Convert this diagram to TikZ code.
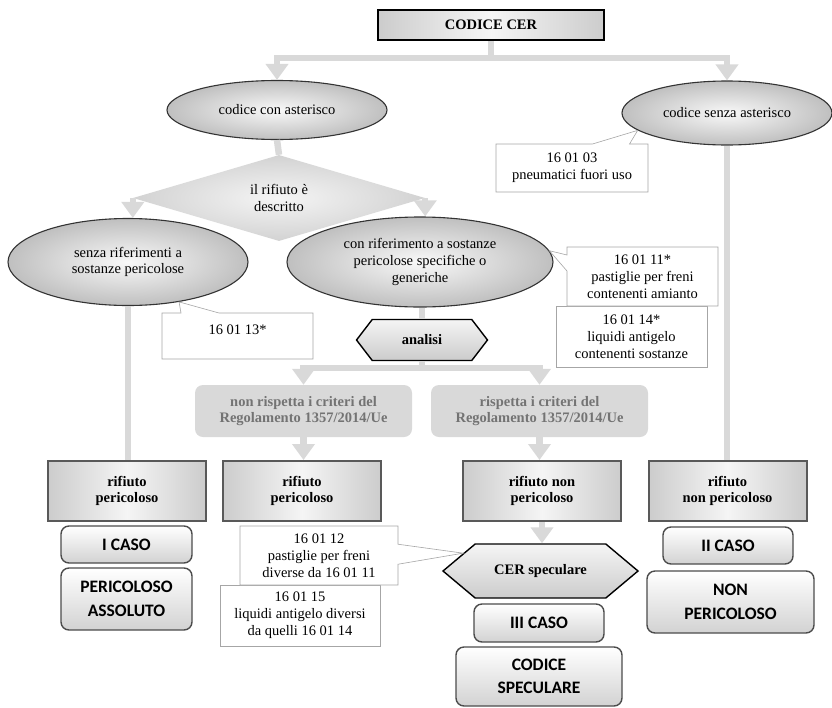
\documentclass[tikz,border=0pt]{standalone}
\usepackage{fontspec}
\setmainfont{Liberation Serif}
\newfontfamily\casefont{Carlito}
\usepackage{xcolor}
\usepackage{tikz}
\usetikzlibrary{arrows.meta, shapes.geometric, shapes.symbols, shapes.callouts}
\tikzset{every node/.append style={font=\fontsize{14.5}{16.8}\selectfont, align=center, inner sep=0pt}}
\tikzset{
    flow/.style={line width=6.5pt, draw=gray!30},
    oval/.style={ellipse, draw=black!80, line width=1.1pt, shading=radial, inner color=gray!5, outer color=gray!50},
    waste/.style={rectangle, draw=black!65, line width=2pt, left color=gray!40, right color=gray!40, middle color=gray!8,
        font=\fontsize{14.5}{16.8}\selectfont\bfseries, minimum width=158pt, minimum height=60pt},
    crit/.style={rectangle, rounded corners=8pt, fill=gray!30, text=black!55, font=\fontsize{14.5}{16.8}\selectfont\bfseries,
        minimum width=217pt, minimum height=52pt},
    casebox/.style={rectangle, rounded corners=8pt, draw=black!70, line width=1.4pt, top color=white, bottom color=gray!35,
        font=\casefont\fontsize{17.5}{23.5}\selectfont\bfseries},
    hexa/.style={signal, signal to=west and east, draw=black, line width=1.4pt, top color=gray!8, bottom color=gray!40,
        font=\fontsize{14.5}{16.8}\selectfont\bfseries},
    notebox/.style={rectangle, draw=gray!70, line width=0.6pt, fill=white},
    note/.style={notebox, rectangle callout}
}

\begin{document}
\begin{tikzpicture}[x=1pt, y=-1pt, >={Triangle[width=22pt,length=16pt]}]
    \useasboundingbox (0,0) rectangle (832,707);
    \node[waste, draw=black, minimum width=226pt, minimum height=30pt] (cer) at (491,25) {CODICE CER};
    \node[oval, minimum width=220pt, minimum height=59pt] (cca) at (277,110) {codice con asterisco};
    \node[oval, minimum width=210pt, minimum height=64pt] (csa) at (727,113) {codice senza asterisco};
    \node[diamond, aspect=3, minimum width=292pt, minimum height=86pt, shading=radial, inner color=gray!8, outer color=gray!35] (dia) at (279,198) {il rifiuto è\\descritto};
    \node[oval, minimum width=240pt, minimum height=87pt] (sr) at (128,262) {senza riferimenti a\\sostanze pericolose};
    \node[oval, minimum width=266pt, minimum height=90pt] (cr) at (420,262) {con riferimento a sostanze\\pericolose specifiche o\\generiche};
    \node[hexa, minimum width=131pt, minimum height=41pt, signal pointer angle=105] (an) at (422,340) {analisi};
    \node[crit] (nr) at (303.5,411) {non rispetta i criteri del\\Regolamento 1357/2014/Ue};
    \node[crit] (rr) at (539.5,411) {rispetta i criteri del\\Regolamento 1357/2014/Ue};
    \foreach \name/\x/\lab in {rp1/127/{rifiuto\\pericoloso}, rp2/302/{rifiuto\\pericoloso}, rnp1/542/{rifiuto non\\pericoloso}, rnp2/727.5/{rifiuto\\non pericoloso}}
        \node[waste] (\name) at (\x,491) {\lab};
    \node[hexa, minimum width=195pt, minimum height=54pt, signal pointer angle=80] (cs) at (540.5,571) {CER speculare};
    \node[casebox, minimum width=131pt, minimum height=37pt] (c1) at (126.5,544.5) {I CASO};
    \node[casebox, minimum width=131pt, minimum height=62pt] (pa) at (126.5,599) {PERICOLOSO\\ASSOLUTO};
    \node[casebox, minimum width=130pt, minimum height=37pt] (c2) at (728,545.5) {II CASO};
    \node[casebox, minimum width=167pt, minimum height=62pt] (np) at (730.5,602) {NON\\PERICOLOSO};
    \node[casebox, minimum width=130pt, minimum height=38pt] (c3) at (539,623) {III CASO};
    \node[casebox, minimum width=166pt, minimum height=59pt] (spec) at (539,676.5) {CODICE\\SPECULARE};

    \coordinate (split1) at (491,58);
    \coordinate (split2) at (422,368);
    \draw[flow] (cer.south) -- (split1);
    \draw[flow, ->] (split1) -| (cca.north);
    \draw[flow, ->] (split1) -| (csa.north);
    \draw[flow] (cca.south) -- (dia.north);
    \draw[flow, ->] (dia.west) -- (dia.west |- sr.north);
    \draw[flow, ->] (dia.east) -- (dia.east |- cr.north);
    \draw[flow] (sr.south) -- (sr.south |- rp1.north);
    \draw[flow] (csa.south) -- (csa.south |- rnp2.north);
    \draw[flow] (cr.south -| an.north) -- (an.north);
    \draw[flow] (an.south) -- (split2);
    \draw[flow, ->] (split2) -| (nr.north);
    \draw[flow, ->] (split2) -| (rr.north);
    \draw[flow, ->] (nr.south) -- (nr.south |- rp2.north);
    \draw[flow, ->] (rr.south) -- (rr.south |- rnp1.north);
    \draw[flow, ->] (rnp1.south) -- (rnp1.south |- cs.north);

    \node[note, minimum width=151pt, minimum height=46pt, text depth=12pt, callout absolute pointer={(sr.-38)}, callout pointer width=38pt] (k13) at (237.5,336) {16 01 13*};
    \node[note, minimum width=152pt, minimum height=48pt, callout absolute pointer={(csa.191)}, callout pointer width=37pt] (k03) at (572,168) {16 01 03\\pneumatici fuori uso};
    \node[notebox, minimum width=151pt, minimum height=61pt] (k14) at (631.5,336.5) {16 01 14*\\liquidi antigelo\\contenenti sostanze};
    \node[note, minimum width=151pt, minimum height=59pt, callout absolute pointer={(cr.5)}, callout pointer width=16pt] (k11) at (642.5,276.5) {16 01 11*\\pastiglie per freni\\contenenti amianto};
    \node[notebox, minimum width=160pt, minimum height=61pt] (k15) at (300,615.5) {16 01 15\\liquidi antigelo diversi\\da quelli 16 01 14};
    \node[note, minimum width=158pt, minimum height=59pt, callout absolute pointer={(cs.167)}, callout pointer width=20pt] (k12) at (319,555.5) {16 01 12\\pastiglie per freni\\diverse da 16 01 11};
\end{tikzpicture}
\end{document}
